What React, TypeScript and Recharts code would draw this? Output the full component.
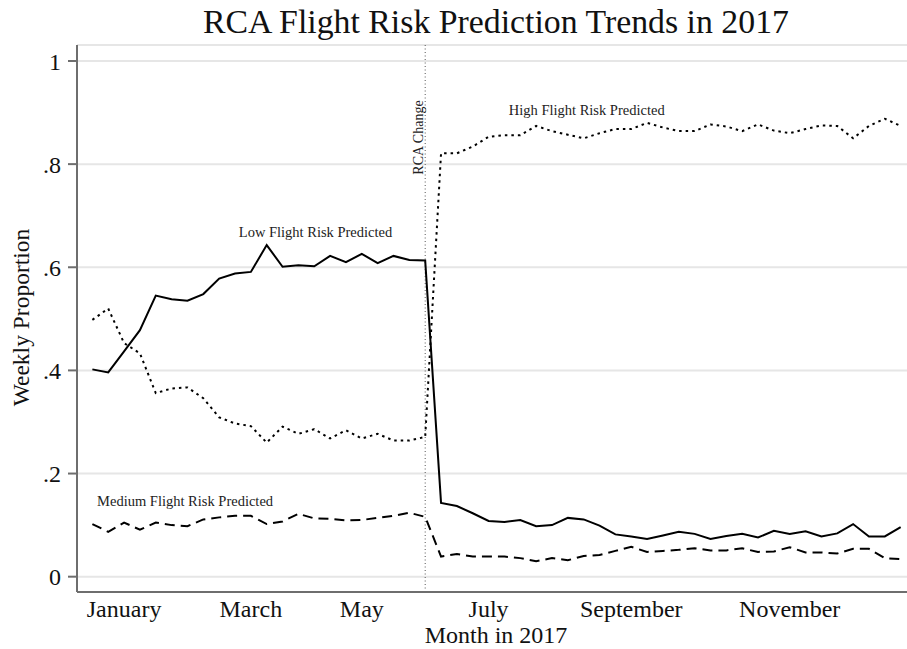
import React from 'react';
import { LineChart, Line, XAxis, YAxis, CartesianGrid, ReferenceLine, ReferenceDot } from 'recharts';

// Weekly proportions, weeks 0..51 of 2017
const lowRisk = [
  0.402, 0.396, 0.437, 0.478, 0.545, 0.538, 0.535, 0.548, 0.578, 0.588,
  0.591, 0.643, 0.601, 0.604, 0.602, 0.622, 0.610, 0.626, 0.608, 0.622,
  0.614, 0.613, 0.143, 0.137, 0.123, 0.108, 0.106, 0.110, 0.098, 0.100,
  0.114, 0.111, 0.099, 0.082, 0.078, 0.073, 0.080, 0.087, 0.083, 0.073,
  0.079, 0.083, 0.076, 0.089, 0.083, 0.088, 0.078, 0.084, 0.102, 0.078,
  0.078, 0.096,
];
const mediumRisk = [
  0.102, 0.087, 0.105, 0.091, 0.105, 0.100, 0.098, 0.111, 0.115, 0.118,
  0.118, 0.102, 0.107, 0.122, 0.113, 0.112, 0.109, 0.110, 0.114, 0.118,
  0.124, 0.116, 0.039, 0.044, 0.039, 0.039, 0.039, 0.036, 0.030, 0.036,
  0.032, 0.040, 0.042, 0.050, 0.058, 0.048, 0.050, 0.052, 0.055, 0.051,
  0.051, 0.055, 0.048, 0.049, 0.057, 0.047, 0.047, 0.045, 0.054, 0.054,
  0.036, 0.034,
];
const highRisk = [
  0.498, 0.520, 0.453, 0.433, 0.356, 0.365, 0.367, 0.346, 0.309, 0.297,
  0.292, 0.260, 0.291, 0.277, 0.286, 0.268, 0.284, 0.268, 0.277, 0.264,
  0.264, 0.271, 0.821, 0.821, 0.834, 0.853, 0.856, 0.856, 0.874, 0.864,
  0.857, 0.850, 0.860, 0.868, 0.868, 0.880, 0.871, 0.864, 0.864, 0.877,
  0.873, 0.864, 0.877, 0.865, 0.860, 0.868, 0.875, 0.874, 0.850, 0.874,
  0.888, 0.874,
];

const monthTicks = [2, 10, 17, 25, 34, 44];
const monthLabels = ['January', 'March', 'May', 'July', 'September', 'November'];
const yTicks = [0, 0.2, 0.4, 0.6, 0.8, 1];
const rcaChangeWeek = 21;

const data = lowRisk.map((v, i) => ({
  week: i,
  low: v,
  medium: mediumRisk[i],
  high: highRisk[i],
}));

const FONT = '"Liberation Serif", "Times New Roman", serif';
const AXIS_COLOR = '#6e6e6e';

const fmtY = (v: number) => {
  if (v === 0) return '0';
  if (v === 1) return '1';
  return String(v).replace(/^0/, '');
};
const fmtX = (v: number) => {
  const idx = monthTicks.indexOf(v);
  return idx >= 0 ? monthLabels[idx] : '';
};

const annotation = (label: string) => (p: any) => (
  <text
    x={p.cx}
    y={p.cy}
    textAnchor="middle"
    fontFamily={FONT}
    fontSize={14.5}
    fill="#222"
  >
    {label}
  </text>
);

const RcaLabel = (props: any) => {
  const vb = props.viewBox || { x: 0, y: 0 };
  const x = vb.x - 2.5;
  const y = vb.y + 92.5;
  return (
    <text
      x={x}
      y={y}
      transform={`rotate(-90 ${x} ${y})`}
      textAnchor="middle"
      fontFamily={FONT}
      fontSize={14}
      fill="#222"
    >
      RCA Change
    </text>
  );
};

export default function App() {
  return (
    <div style={{ position: 'absolute', left: 0, top: 0, width: 907, height: 649, background: '#fff' }}>
      <LineChart
        width={907}
        height={649}
        data={data}
        margin={{ top: 45, right: 0, bottom: 0, left: 0 }}
      >
        <CartesianGrid horizontal vertical={false} stroke="#e6e6e6" strokeWidth={2} />
        <XAxis
          dataKey="week"
          type="number"
          domain={[-0.97, 51.4]}
          allowDataOverflow
          ticks={monthTicks}
          interval={0}
          tickFormatter={fmtX}
          tickLine={false}
          tickSize={6}
          tickMargin={2}
          height={57}
          axisLine={{ stroke: AXIS_COLOR, strokeWidth: 2 }}
          tick={{ fontFamily: FONT, fontSize: 24, fill: '#111' }}
        />
        <YAxis
          type="number"
          domain={[-0.0297, 1.031]}
          allowDataOverflow
          ticks={yTicks}
          interval={0}
          tickFormatter={fmtY}
          width={77}
          tickSize={9}
          tickMargin={7}
          tickLine={{ stroke: AXIS_COLOR, strokeWidth: 2 }}
          axisLine={{ stroke: AXIS_COLOR, strokeWidth: 2 }}
          tick={{ fontFamily: FONT, fontSize: 24, fill: '#111' }}
        />
        <ReferenceLine
          x={rcaChangeWeek}
          stroke="#555"
          strokeWidth={1}
          strokeDasharray="1 2.5"
          label={<RcaLabel />}
        />
        <Line
          type="linear"
          dataKey="low"
          stroke="#000"
          strokeWidth={2}
          dot={false}
          activeDot={false}
          isAnimationActive={false}
        />
        <Line
          type="linear"
          dataKey="medium"
          stroke="#000"
          strokeWidth={2}
          strokeDasharray="10 6"
          dot={false}
          activeDot={false}
          isAnimationActive={false}
        />
        <Line
          type="linear"
          dataKey="high"
          stroke="#000"
          strokeWidth={2}
          strokeDasharray="2.5 4"
          dot={false}
          activeDot={false}
          isAnimationActive={false}
        />
        <ReferenceDot x={14.08} y={0.659} r={0} ifOverflow="visible" shape={annotation('Low Flight Risk Predicted')} />
        <ReferenceDot x={31.19} y={0.896} r={0} ifOverflow="visible" shape={annotation('High Flight Risk Predicted')} />
        <ReferenceDot x={5.85} y={0.138} r={0} ifOverflow="visible" shape={annotation('Medium Flight Risk Predicted')} />
      </LineChart>
      <svg
        width={907}
        height={649}
        style={{ position: 'absolute', left: 0, top: 0, pointerEvents: 'none' }}
      >
        <text x={496} y={33} textAnchor="middle" fontFamily={FONT} fontSize={33.8} fill="#111">
          RCA Flight Risk Prediction Trends in 2017
        </text>
        <text x={496} y={643} textAnchor="middle" fontFamily={FONT} fontSize={24} fill="#111">
          Month in 2017
        </text>
        <text
          x={29}
          y={317.5}
          transform="rotate(-90 29 317.5)"
          textAnchor="middle"
          fontFamily={FONT}
          fontSize={23.5}
          fill="#111"
        >
          Weekly Proportion
        </text>
      </svg>
    </div>
  );
}
